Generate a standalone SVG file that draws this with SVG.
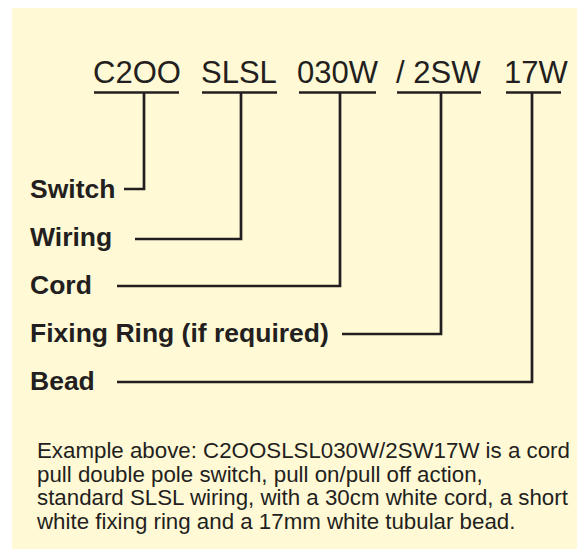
<svg xmlns="http://www.w3.org/2000/svg" width="585" height="551" viewBox="0 0 585 551">
<style>
.code{font-family:"Liberation Sans",Arial,sans-serif;font-size:31px;fill:#231f20}
.lbl{font-family:"Liberation Sans",Arial,sans-serif;font-size:26.5px;font-weight:bold;fill:#231f20}
.para{font-family:"Liberation Sans",Arial,sans-serif;font-size:22.3px;fill:#231f20}
.ln{stroke:#231f20;stroke-width:2.7;fill:none}
</style>
<rect x="12" y="8" width="565" height="541" fill="#fff9d6"/>
<g id="code">
<text class="code" x="93" y="82.5">C2OO</text>
<text class="code" x="201" y="82.5">SLSL</text>
<text class="code" x="297" y="82.5">030W</text>
<text class="code" x="396" y="82.5">/ 2SW</text>
<text class="code" x="504" y="82.5">17W</text>
</g>
<g id="labels">
<text class="lbl" x="30" y="198">Switch</text>
<text class="lbl" x="30" y="246">Wiring</text>
<text class="lbl" x="30" y="294">Cord</text>
<text class="lbl" x="30" y="342">Fixing Ring (if required)</text>
<text class="lbl" x="30" y="390">Bead</text>
</g>
<g id="connectors" class="ln">
<line x1="94" y1="92.5" x2="179" y2="92.5"/>
<line x1="202" y1="92.5" x2="277" y2="92.5"/>
<line x1="299" y1="92.5" x2="376" y2="92.5"/>
<line x1="397" y1="92.5" x2="481" y2="92.5"/>
<line x1="506" y1="92.5" x2="561" y2="92.5"/>
<polyline points="144,92.5 144,189 124,189"/>
<polyline points="241,92.5 241,239 135,239"/>
<polyline points="340,92.5 340,286 117,286"/>
<polyline points="441,92.5 441,334 342,334"/>
<polyline points="532,92.5 532,382 117,382"/>
</g>
<g id="note" class="para">
<text x="37" y="458">Example above: C2OOSLSL030W/2SW17W is a cord</text>
<text x="37" y="481.5">pull double pole switch, pull on/pull off action,</text>
<text x="37" y="505">standard SLSL wiring, with a 30cm white cord, a short</text>
<text x="37" y="528.5">white fixing ring and a 17mm white tubular bead.</text>
</g>
</svg>
